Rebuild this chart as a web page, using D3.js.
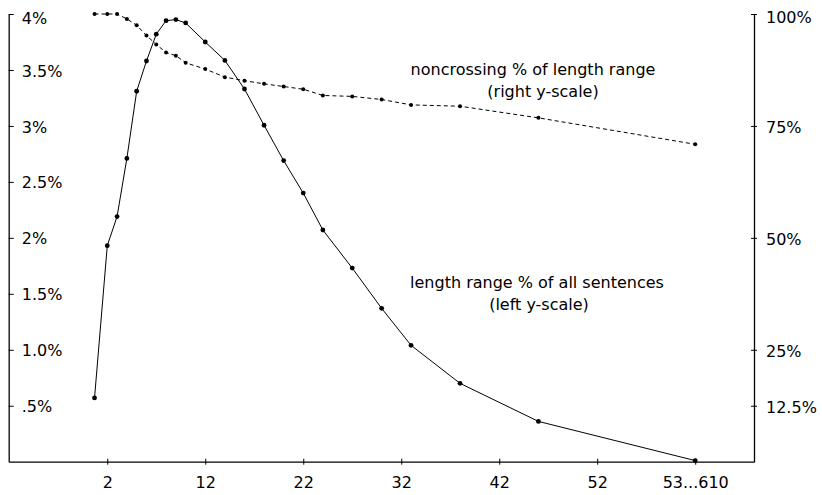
<!DOCTYPE html>
<html>
<head>
<meta charset="utf-8">
<script src="https://cdn.jsdelivr.net/npm/d3@7"></script>
<style>
  html, body { margin: 0; padding: 0; background: #fff; }
  svg { display: block; }
  text { font-family: "DejaVu Sans", sans-serif; fill: #000; }
</style>
</head>
<body>
<svg id="chart" width="822" height="495"></svg>
<script>
// ---- data ----
const lengths = [0.7, 2, 3, 4, 5, 6, 7, 8, 9, 10, 12, 14, 16, 18, 20, 22, 24, 27, 30, 33, 38, 46, 62];
const shareOfAll = [0.57, 1.93, 2.19, 2.71, 3.31, 3.58, 3.82, 3.94, 3.95, 3.92, 3.75, 3.585, 3.33, 3.006, 2.69, 2.40, 2.07, 1.73, 1.37, 1.04, 0.70, 0.36, 0.01];
const noncrossing = [100, 100, 100, 98.9, 97.5, 95.2, 93.2, 91.4, 90.7, 89.1, 87.7, 85.9, 85.1, 84.4, 83.8, 83.2, 81.8, 81.6, 80.9, 79.7, 79.4, 76.8, 70.9];
const xTicks = [2, 12, 22, 32, 42, 52, 62];
const xTickLabels = ["2", "12", "22", "32", "42", "52", "53...610"];
const leftTicks = [0.5, 1, 1.5, 2, 2.5, 3, 3.5, 4];
const leftTickLabels = [".5%", "1.0%", "1.5%", "2%", "2.5%", "3%", "3.5%", "4%"];
const rightTicks = [12.5, 25, 50, 75, 100];
const rightTickLabels = ["12.5%", "25%", "50%", "75%", "100%"];

(function () {
// ---- layout ----
const svg = d3.select("#chart");
const pL = 8.7, pR = 754, pT = 14, pB = 461.7;
const x = d3.scaleLinear().domain([-8.06, 68]).range([pL, pR]);
const yL = d3.scaleLinear().domain([0, 4]).range([pB, pT]);
const yR = d3.scaleLinear().domain([0, 100]).range([pB, pT]);
const fontSize = 16;

// bottom axis
const gx = svg.append("g").attr("transform", `translate(0,${pB})`)
  .call(d3.axisBottom(x).tickValues(xTicks)
    .tickFormat((d, i) => xTickLabels[i]).tickSize(3).tickSizeOuter(0).tickPadding(12));
gx.selectAll(".tick line").attr("y1", -3).attr("y2", 3);

// left axis (labels inside plot)
const gl = svg.append("g").attr("transform", `translate(${pL},0)`)
  .call(d3.axisRight(yL).tickValues(leftTicks)
    .tickFormat((d, i) => leftTickLabels[i]).tickSize(5).tickSizeOuter(0).tickPadding(8));
gl.selectAll(".tick text").attr("dy", (d) => d === 4 ? "0.6em" : "0.38em");

// right axis
const gr = svg.append("g").attr("transform", `translate(${pR},0)`)
  .call(d3.axisRight(yR).tickValues(rightTicks)
    .tickFormat((d, i) => rightTickLabels[i]).tickSize(3).tickSizeOuter(0).tickPadding(9));
gr.selectAll(".tick line").attr("x1", -3).attr("x2", 3);
gr.selectAll(".tick text").attr("dy", (d) => d === 100 ? "0.5em" : "0.4em");

// axis styling
svg.selectAll(".domain").attr("stroke", "#000").attr("stroke-width", 1.3);
svg.selectAll(".tick line").attr("stroke", "#000").attr("stroke-width", 1);
svg.selectAll(".tick text").attr("font-size", fontSize)
  .attr("font-family", "'DejaVu Sans', sans-serif").attr("fill", "#000");

// ---- series ----
const solidData = lengths.map((l, i) => [l, shareOfAll[i]]);
const dashData = lengths.map((l, i) => [l, noncrossing[i]]);

svg.append("path").datum(dashData)
  .attr("fill", "none").attr("stroke", "#000").attr("stroke-width", 1)
  .attr("stroke-dasharray", "4,3")
  .attr("d", d3.line().x(d => x(d[0])).y(d => yR(d[1])));
svg.append("g").selectAll("circle").data(dashData).join("circle")
  .attr("cx", d => x(d[0])).attr("cy", d => yR(d[1])).attr("r", 2).attr("fill", "#000");

svg.append("path").datum(solidData)
  .attr("fill", "none").attr("stroke", "#000").attr("stroke-width", 1)
  .attr("d", d3.line().x(d => x(d[0])).y(d => yL(d[1])));
svg.append("g").selectAll("circle").data(solidData).join("circle")
  .attr("cx", d => x(d[0])).attr("cy", d => yL(d[1])).attr("r", 2.4).attr("fill", "#000");

// ---- annotations ----
const ann = svg.append("g").attr("font-size", fontSize).attr("text-anchor", "middle");
ann.append("text").attr("x", 533).attr("y", 75).text("noncrossing % of length range");
ann.append("text").attr("x", 543).attr("y", 97).text("(right y-scale)");
ann.append("text").attr("x", 537).attr("y", 288).text("length range % of all sentences");
ann.append("text").attr("x", 539).attr("y", 310).text("(left y-scale)");
})();
</script>
</body>
</html>
